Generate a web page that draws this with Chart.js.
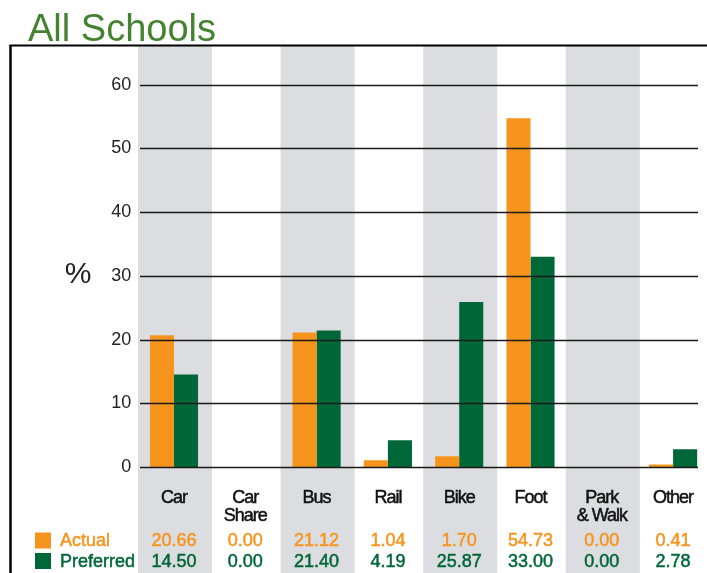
<!DOCTYPE html>
<html>
<head>
<meta charset="utf-8">
<script src="https://cdn.jsdelivr.net/npm/chart.js@4/dist/chart.umd.min.js"></script>
<style>
  html, body { margin: 0; padding: 0; background: #fff; overflow: hidden; }
  #wrap { position: relative; width: 707px; height: 573px; overflow: hidden; }
</style>
</head>
<body>
<div id="wrap">
  <canvas id="chart" width="712" height="573"></canvas>
</div>
<script>
// data -----------------------------------------------------------------
const categories = [['Car'], ['Car', 'Share'], ['Bus'], ['Rail'], ['Bike'], ['Foot'], ['Park', '& Walk'], ['Other']]
const actual = [20.66, 0.00, 21.12, 1.04, 1.70, 54.73, 0.00, 0.41]
const preferred = [14.50, 0.00, 21.40, 4.19, 25.87, 33.00, 0.00, 2.78]
const seriesNames = ['Actual', 'Preferred']
const yTicks = [0, 10, 20, 30, 40, 50, 60]

const ORANGE = '#f7941d'
const GREEN = '#006838'
const BAND = '#dcdde0'
const FONT = "'Liberation Sans', Arial, Helvetica, sans-serif"

// text a bit heavier, like the printed original
function heavyText(ctx, t, x, y) {
  ctx.strokeStyle = ctx.fillStyle
  ctx.lineWidth = 0.5
  ctx.strokeText(t, x, y)
  ctx.fillText(t, x, y)
}

// gray bands, frame, grid lines, bottom table -------------------------
const tablePlugin = {
  id: 'schoolsTable',
  beforeDraw(chart) {
    const ctx = chart.ctx
    const x = chart.scales.x
    ctx.save()
    ctx.fillStyle = BAND
    categories.forEach((c, i) => {
      if (i % 2 !== 0) return
      const cx = x.getPixelForValue(i)
      ctx.fillRect(cx + 1 - 37, 46, 74, chart.height - 46)
    })
    // frame (top + left)
    ctx.strokeStyle = '#000'
    ctx.lineWidth = 2
    ctx.beginPath()
    ctx.moveTo(9.5, 45.5)
    ctx.lineTo(chart.width, 45.5)
    ctx.stroke()
    ctx.lineWidth = 2.5
    ctx.beginPath()
    ctx.moveTo(10.5, 45)
    ctx.lineTo(10.5, chart.height)
    ctx.stroke()
    ctx.restore()
  },
  afterDatasetsDraw(chart) {
    const ctx = chart.ctx
    const y = chart.scales.y
    ctx.save()
    ctx.strokeStyle = '#1a1a1a'
    ctx.lineWidth = 1.6
    yTicks.forEach(v => {
      const py = Math.round(y.getPixelForValue(v)) + 0.5
      ctx.beginPath()
      ctx.moveTo(140, py)
      ctx.lineTo(698, py)
      ctx.stroke()
    })
    ctx.restore()
  },
  afterDraw(chart) {
    const ctx = chart.ctx
    const x = chart.scales.x
    const y = chart.scales.y
    ctx.save()
    ctx.textBaseline = 'middle'

    // "%" axis label, upright
    ctx.fillStyle = '#222'
    ctx.textAlign = 'center'
    ctx.font = `30px ${FONT}`
    ctx.fillText('%', 78, y.getPixelForValue(30) - 1)

    // category names
    ctx.font = `18px ${FONT}`
    ctx.letterSpacing = '-1px'
    ctx.fillStyle = '#111'
    categories.forEach((lines, i) => {
      const cx = x.getPixelForValue(i)
      lines.forEach((t, j) => heavyText(ctx, t, cx, 498 + j * 18))
    })

    // values rows
    ctx.letterSpacing = '0px'
    const rows = [[actual, ORANGE, 541.5], [preferred, GREEN, 562]]
    rows.forEach(([vals, color, py]) => {
      ctx.fillStyle = color
      vals.forEach((v, i) => heavyText(ctx, v.toFixed(2), x.getPixelForValue(i), py))
    })

    // legend keys
    ctx.textAlign = 'left'
    rows.forEach(([vals, color, py], k) => {
      ctx.fillStyle = color
      ctx.fillRect(35, py - 9, 16, 16)
      heavyText(ctx, seriesNames[k], 60, py)
    })
    ctx.restore()
  }
}

// chart ---------------------------------------------------------------
const ctx = document.querySelector('#chart').getContext('2d')

const chart = new Chart(ctx, {
  type: 'bar',
  data: {
    labels: categories.map(c => c.join(' ')),
    datasets: [
      {
        label: seriesNames[0],
        data: actual,
        backgroundColor: ORANGE,
        barPercentage: 1,
        categoryPercentage: 0.675,
      },
      {
        label: seriesNames[1],
        data: preferred,
        backgroundColor: GREEN,
        barPercentage: 1,
        categoryPercentage: 0.675,
      },
    ],
  },
  options: {
    responsive: false,
    animation: false,
    layout: {
      padding: { left: 28, right: 3.25, top: 0, bottom: 106 }
    },
    scales: {
      x: {
        display: false,
      },
      y: {
        min: 0,
        max: 60,
        border: { display: false },
        grid: { display: false, drawTicks: false },
        ticks: {
          stepSize: 10,
          padding: 7,
          color: '#222',
          font: { family: FONT, size: 18 },
        },
        afterFit(scale) {
          scale.width = 110.35
        }
      }
    },
    plugins: {
      legend: { display: false },
      tooltip: { enabled: false },
      title: {
        display: true,
        text: 'All Schools',
        align: 'start',
        color: '#43832f',
        font: { family: FONT, size: 38, weight: 'normal' },
        padding: { top: 8, bottom: 31 }
      }
    }
  },
  plugins: [tablePlugin]
})
</script>
</body>
</html>
